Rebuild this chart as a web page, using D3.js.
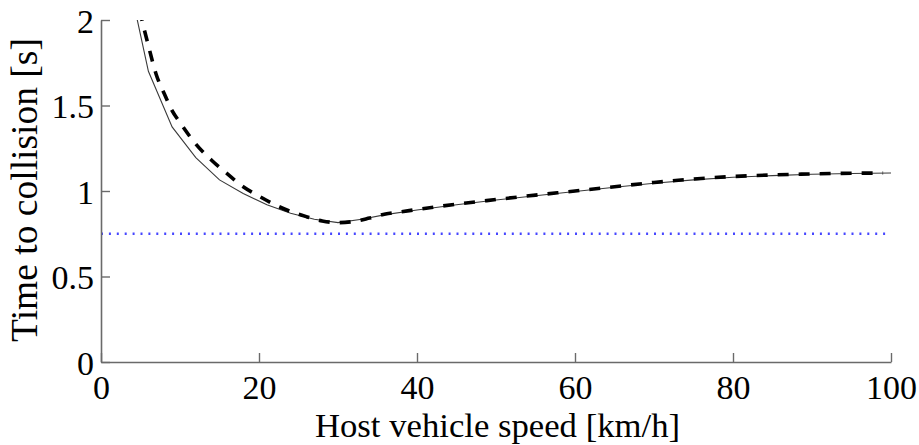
<!DOCTYPE html>
<html>
<head>
<meta charset="utf-8">
<script src="https://cdn.jsdelivr.net/npm/d3@7"></script>
<style>
  html, body { margin: 0; padding: 0; background: #fff; }
  svg { display: block; }
</style>
</head>
<body>
<svg id="chart" width="919" height="445"></svg>
<script>
// Time to collision versus host vehicle speed
const solidSpeed = [3, 6, 9, 12, 15, 18, 21, 24, 27, 30, 33, 36, 40, 45, 50, 55, 60, 65, 70, 75, 80, 85, 90, 95, 100];
const solidTTC   = [2.34, 1.70, 1.375, 1.195, 1.065, 0.985, 0.92, 0.87, 0.835, 0.815, 0.835, 0.862, 0.889, 0.92, 0.947, 0.972, 0.997, 1.022, 1.045, 1.065, 1.08, 1.09, 1.098, 1.102, 1.105];

const dashedSpeed = [4, 5, 6, 7, 8, 9, 10, 12, 14, 16, 18, 20, 22, 24, 26, 28, 30, 32, 34, 36, 38, 40, 45, 50, 55, 60, 65, 70, 75, 80, 85, 90, 95, 99];
const dashedTTC   = [2.30, 2.04, 1.85, 1.68, 1.57, 1.47, 1.40, 1.275, 1.18, 1.10, 1.025, 0.97, 0.92, 0.88, 0.85, 0.825, 0.815, 0.822, 0.842, 0.865, 0.878, 0.892, 0.923, 0.95, 0.976, 1.0, 1.025, 1.05, 1.07, 1.085, 1.094, 1.1, 1.104, 1.105];

const thresholdSpeed = [0, 100];
const thresholdTTC = 0.75;

const xTicks = [0, 20, 40, 60, 80, 100];
const yTicks = [0, 0.5, 1, 1.5, 2];
const xTitle = "Host vehicle speed [km/h]";
const yTitle = "Time to collision [s]";

const fontFamily = "Liberation Serif";

const svg = d3.select("#chart");
const x = d3.scaleLinear().domain([0, 100]).range([101, 891]);
const y = d3.scaleLinear().domain([0, 2]).range([362, 20]);

svg.append("defs").append("clipPath").attr("id", "plot-clip")
  .append("rect").attr("x", 101).attr("y", 20).attr("width", 790).attr("height", 342);

const plot = svg.append("g").attr("clip-path", "url(#plot-clip)");

// threshold line
plot.append("path")
  .datum(thresholdSpeed)
  .attr("d", d3.line().x(d => x(d)).y(() => y(thresholdTTC)))
  .attr("fill", "none")
  .attr("stroke", "#4646ff")
  .attr("stroke-width", 2.6)
  .attr("stroke-dasharray", "2,5.9");

// solid curve
plot.append("path")
  .datum(d3.zip(solidSpeed, solidTTC))
  .attr("d", d3.line().x(d => x(d[0])).y(d => y(d[1])))
  .attr("fill", "none")
  .attr("stroke", "#3a3a3a")
  .attr("stroke-width", 1.1);

// dashed curve
plot.append("path")
  .datum(d3.zip(dashedSpeed, dashedTTC))
  .attr("d", d3.line().curve(d3.curveMonotoneX).x(d => x(d[0])).y(d => y(d[1])))
  .attr("fill", "none")
  .attr("stroke", "#000")
  .attr("stroke-width", 3.6)
  .attr("stroke-dasharray", "11,10");

// axes
const tickFont = 34;

const xAxis = svg.append("g")
  .attr("transform", `translate(0,${y(0)})`)
  .call(d3.axisBottom(x).tickValues(xTicks).tickFormat(d3.format("d")).tickSizeInner(-9).tickSizeOuter(0));

const yAxis = svg.append("g")
  .attr("transform", `translate(${x(0)},0)`)
  .call(d3.axisLeft(y).tickValues(yTicks).tickFormat(d => String(d)).tickSizeInner(-9).tickSizeOuter(0));

[xAxis, yAxis].forEach(g => {
  g.attr("font-family", fontFamily).attr("font-size", tickFont);
  g.select(".domain").attr("stroke", "#6a6a6a").attr("stroke-width", 1.6);
  g.selectAll(".tick line").attr("stroke", "#6a6a6a").attr("stroke-width", 1.4);
  g.selectAll(".tick text").attr("fill", "#000");
});

xAxis.selectAll(".tick text").attr("y", 37).attr("dy", 0);
yAxis.selectAll(".tick text").attr("x", -7).attr("dy", "0.36em");

// axis titles
svg.append("text")
  .attr("x", 497.5).attr("y", 436.5)
  .attr("text-anchor", "middle")
  .attr("font-family", fontFamily)
  .attr("font-size", 34.7)
  .text(xTitle);

svg.append("text")
  .attr("transform", "translate(37,190) rotate(-90)")
  .attr("text-anchor", "middle")
  .attr("font-family", fontFamily)
  .attr("font-size", 37.5)
  .text(yTitle);
</script>
</body>
</html>
